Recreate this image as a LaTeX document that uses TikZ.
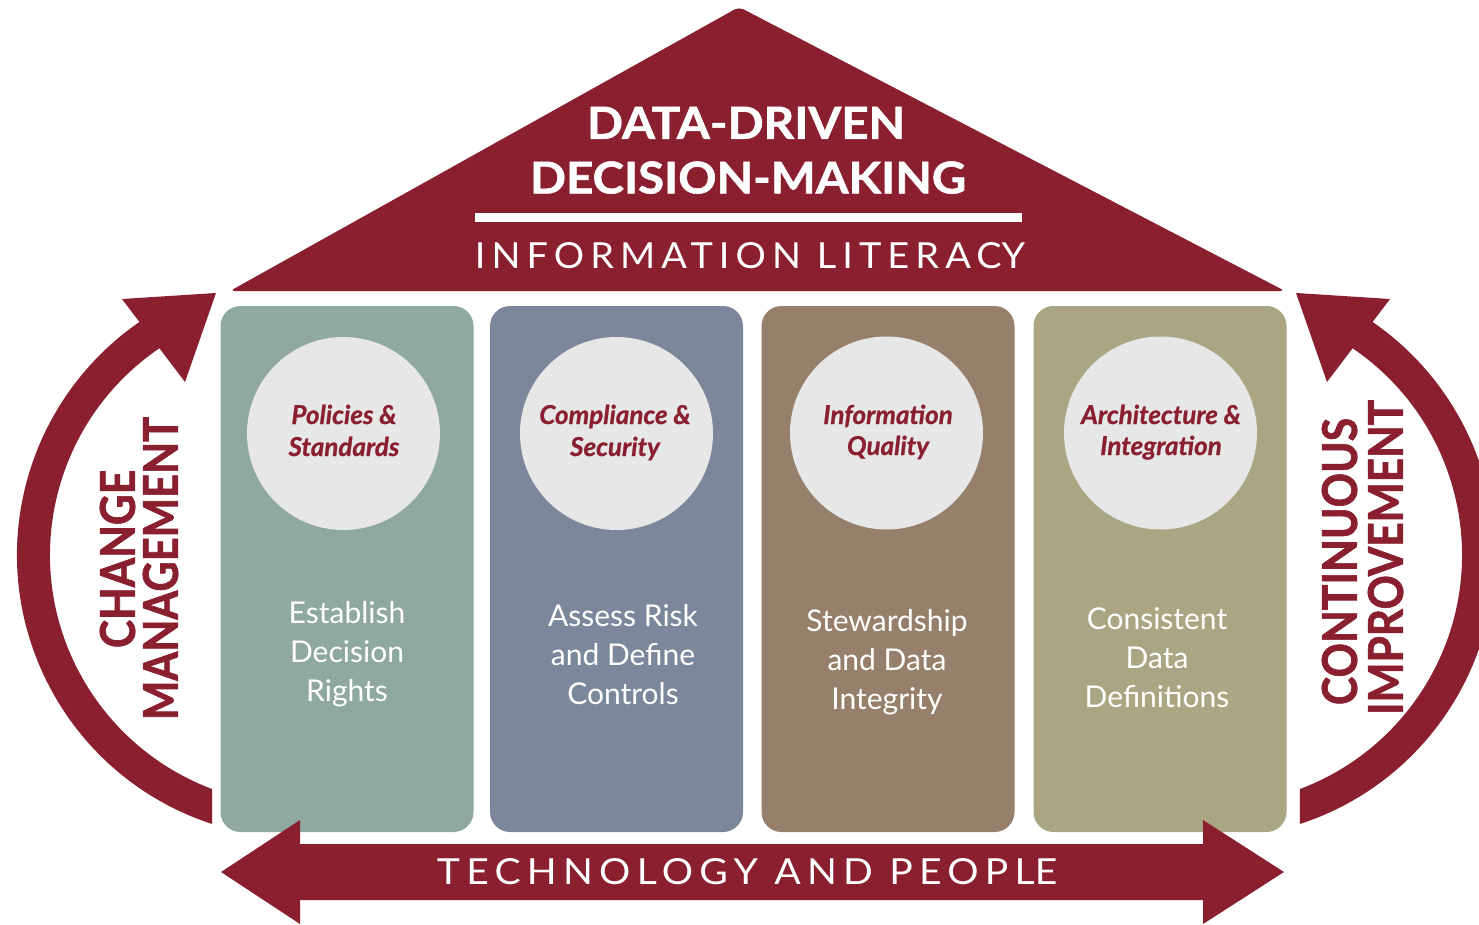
\documentclass[tikz,border=0pt]{standalone}
\usepackage{fontspec}
\setmainfont{Lato}
\usepackage{graphicx}
\definecolor{dred}{HTML}{8A1F2F}
\definecolor{pgreen}{HTML}{8FA99E}
\definecolor{pslate}{HTML}{7D879B}
\definecolor{pbrown}{HTML}{967F6B}
\definecolor{pkhaki}{HTML}{AAA683}
\definecolor{cgray}{HTML}{E7E7E7}
\tikzset{
  pillar/.style={rectangle, rounded corners=20pt, minimum width=253pt, minimum height=526pt, inner sep=0pt, draw=none},
  disc/.style={circle, fill=cgray, minimum size=193pt, inner sep=0pt, draw=none},
  pillartxt/.style={text=white, font=\fontsize{30}{36}\selectfont, anchor=base, inner sep=0pt},
  circtxt/.style={text=dred, font=\fontsize{26}{30}\selectfont\bfseries\itshape\addfontfeature{FakeBold=0.8}, anchor=base, inner sep=0pt},
  bigtxt/.style={inner sep=0pt, anchor=south, font=\bfseries\addfontfeature{FakeBold=1.2}},
  sidetxt/.style={inner sep=0pt, rotate=90, text=dred, font=\bfseries\addfontfeature{FakeBold=1.5}},
  spacedtxt/.style={inner sep=0pt, anchor=south, text=white},
}
\begin{document}
\begin{tikzpicture}[x=1pt,y=-1pt]
\useasboundingbox (0,0) rectangle (1479,925);
\fill[white] (0,0) rectangle (1479,925);
\clip (0,0) rectangle (1479,925);

% roof
\fill[dred, rounded corners=5pt] (739,7) -- (1285,291) -- (230,291) -- cycle;
\node[bigtxt, text=white] (title1) at (746,139) {\resizebox{318pt}{32pt}{DATA-DRIVEN}};
\node[bigtxt, text=white] (title2) at (748,194) {\resizebox{436pt}{32pt}{DECISION-MAKING}};
\fill[white] (475,213) rectangle (1022,222);
\node[spacedtxt] (literacy) at (750,269) {\resizebox{550pt}{26pt}{\addfontfeature{LetterSpace=16}INFORMATION LITERAC\kern0ptY}};

% pillars
\node[pillar, fill=pgreen] (p1) at (347,569) {};
\node[pillar, fill=pslate] (p2) at (616.5,569) {};
\node[pillar, fill=pbrown] (p3) at (888,569) {};
\node[pillar, fill=pkhaki] (p4) at (1160,569) {};

% discs
\node[disc] (c1) at (343.5,433.5) {};
\node[disc] (c2) at (616.5,433.5) {};
\node[disc] (c3) at (886.5,433) {};
\node[disc] (c4) at (1160.5,433) {};

\node[circtxt] (c1a) at (344,424) {Policies \&};
\node[circtxt] (c1b) at (344,456) {Standards};
\node[circtxt] (c2a) at (615,424) {Compliance \&};
\node[circtxt] (c2b) at (615,456) {Security};
\node[circtxt] (c3a) at (888,424) {Information};
\node[circtxt] (c3b) at (888,455) {Quality};
\node[circtxt] (c4a) at (1161,424) {Architecture \&};
\node[circtxt] (c4b) at (1161,455) {Integration};

% pillar texts
\node[pillartxt] (e1) at (347,623) {Establish};
\node[pillartxt] (e2) at (347,662) {Decision};
\node[pillartxt] (e3) at (347,701) {Rights};
\node[pillartxt] (a1) at (623,626) {Assess Risk};
\node[pillartxt] (a2) at (623,665) {and Define};
\node[pillartxt] (a3) at (623,704) {Controls};
\node[pillartxt] (s1) at (887,631) {Stewardship};
\node[pillartxt] (s2) at (887,670) {and Data};
\node[pillartxt] (s3) at (887,709) {Integrity};
\node[pillartxt] (d1) at (1157,629) {Consistent};
\node[pillartxt] (d2) at (1157,668) {Data};
\node[pillartxt] (d3) at (1157,707) {Definitions};

% bottom double arrow
\fill[dred] (221,872) -- (300,820) -- (300,844) -- (1203,844) -- (1203,820) -- (1284,872)
  -- (1203,924) -- (1203,900) -- (300,900) -- (300,924) -- cycle;
\node[spacedtxt] (tech) at (747,885) {\resizebox{620pt}{26pt}{\addfontfeature{LetterSpace=16}TECHNOLOGY AND PEOPL\kern0ptE}};

% left curved arrow
\fill[dred] ([shift={(300,555)}]108.1:283) arc[start angle=108.1, end angle=237, radius=283]
  -- ([shift={(300,555)}]237:250) arc[start angle=237, end angle=110.6, radius=250] -- cycle;
\fill[dred] (122,299) -- (216,293) -- (185,382) -- cycle;
\node[sidetxt] (change) at (117.5,559) {\resizebox{178pt}{35pt}{CHANGE}};
\node[sidetxt] (manage) at (160.5,568.5) {\resizebox{303pt}{35pt}{MANAGEMENT}};

% right curved arrow
\fill[dred] ([shift={(1212,555)}]71.9:283) arc[start angle=71.9, end angle=-57, radius=283]
  -- ([shift={(1212,555)}]-57:250) arc[start angle=-57, end angle=69.4, radius=250] -- cycle;
\fill[dred] (1390,299) -- (1296,293) -- (1327,382) -- cycle;
\node[sidetxt] (contin) at (1339.5,561.5) {\resizebox{287pt}{35pt}{CONTINUOUS}};
\node[sidetxt] (improve) at (1385.5,557.5) {\resizebox{315pt}{35pt}{IMPROVEMENT}};
\end{tikzpicture}
\end{document}
